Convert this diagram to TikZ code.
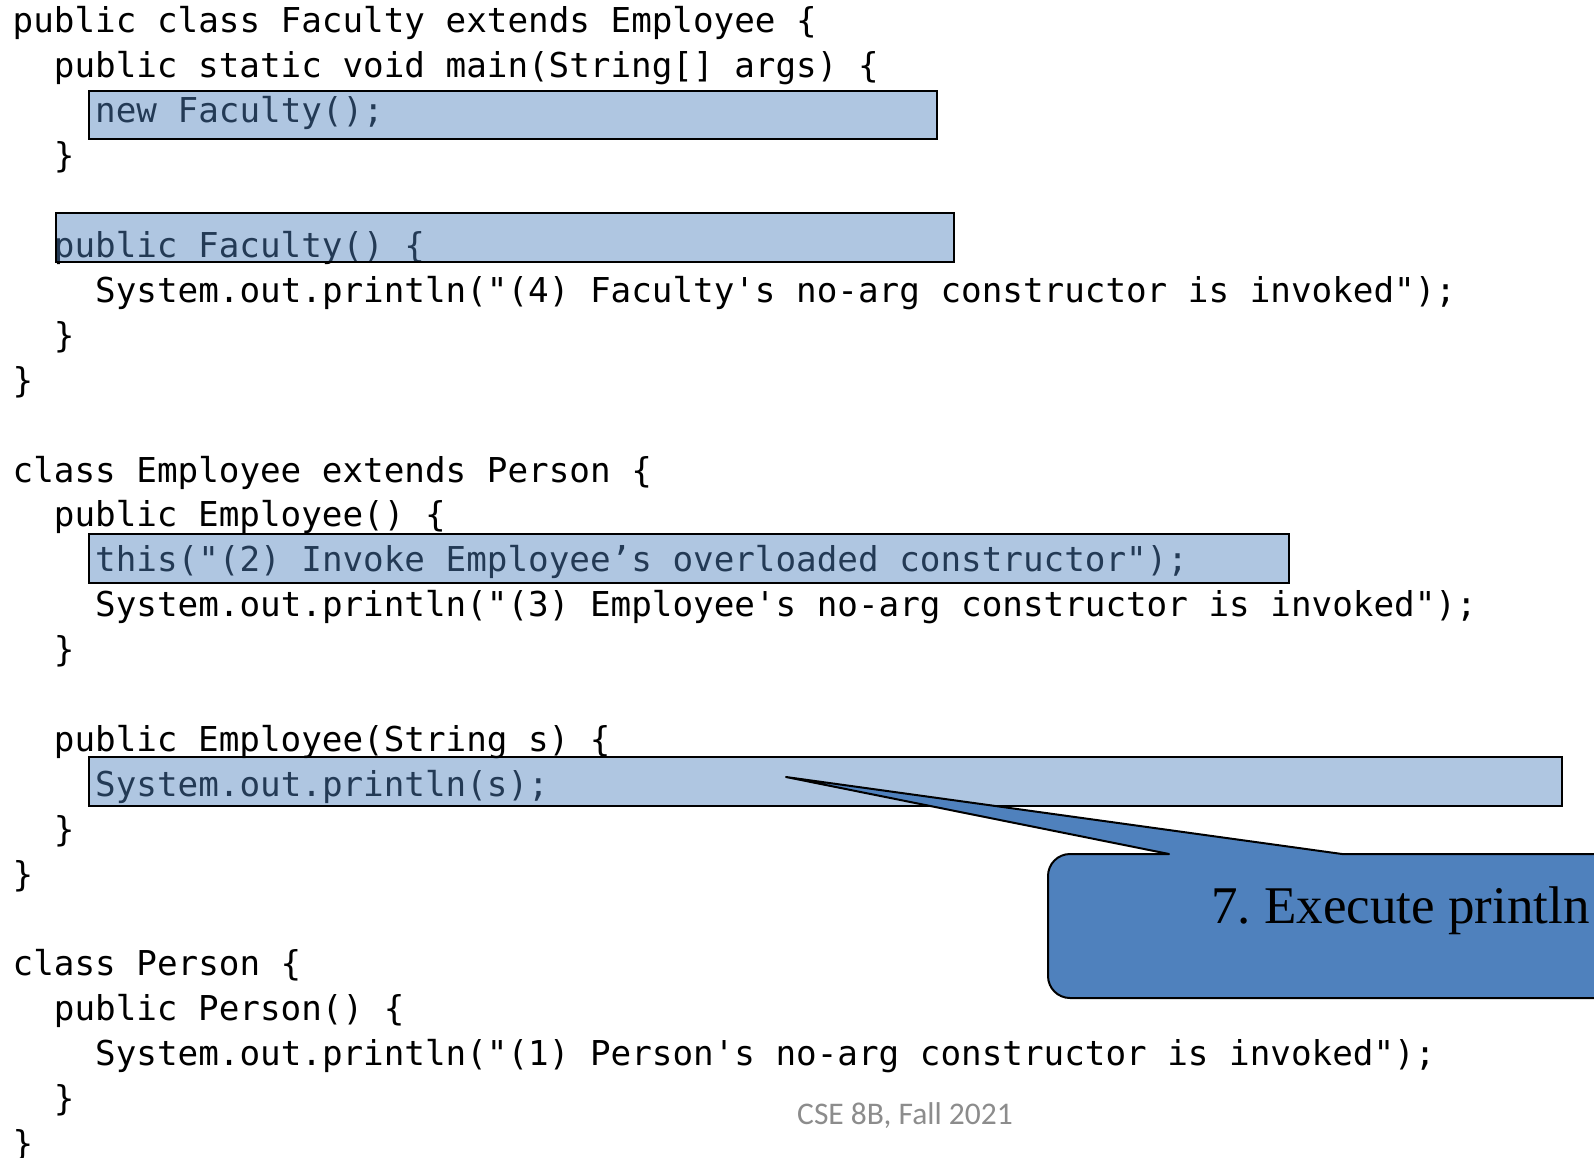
\documentclass[tikz,border=0pt]{standalone}
\usepackage{fontspec}
\newfontfamily\codefont{DejaVu Sans Mono}
\newfontfamily\footfont{Carlito}
\newfontfamily\calloutfont{Liberation Serif}
\definecolor{steelblue}{RGB}{79,129,189}
\definecolor{footgray}{RGB}{140,140,140}
\tikzset{
  codeline/.style={anchor=base west, inner sep=0pt, font=\codefont\fontsize{34.25pt}{40pt}\selectfont},
  hl/.style={fill=steelblue, fill opacity=0.45, draw=black, line width=2pt},
  callout/.style={fill=steelblue, draw=black, line width=2pt, line join=round},
}
\begin{document}
\begin{tikzpicture}[x=1pt, y=-1pt]
\useasboundingbox (0,0) rectangle (1594,1158);
\fill[white] (0,0) rectangle (1594,1158);

% class Faculty
\node[codeline] (l1)  at (12.5, 33.0)  {public class Faculty extends Employee \{};
\node[codeline] (l2)  at (53.7, 77.9)  {public static void main(String[] args) \{};
\node[codeline] (l3)  at (95.0, 122.8) {new Faculty();};
\node[codeline] (l4)  at (53.7, 167.7) {\}};
\node[codeline] (l6)  at (53.7, 257.5) {public Faculty() \{};
\node[codeline] (l7)  at (95.0, 302.4) {System.out.println("(4) Faculty's no-arg constructor is invoked");};
\node[codeline] (l8)  at (53.7, 347.3) {\}};
\node[codeline] (l9)  at (12.5, 392.2) {\}};

% class Employee
\node[codeline] (l11) at (12.5, 482.0) {class Employee extends Person \{};
\node[codeline] (l12) at (53.7, 526.9) {public Employee() \{};
\node[codeline] (l13) at (95.0, 571.8) {this("(2) Invoke Employee’s overloaded constructor");};
\node[codeline] (l14) at (95.0, 616.7) {System.out.println("(3) Employee's no-arg constructor is invoked");};
\node[codeline] (l15) at (53.7, 661.6) {\}};
\node[codeline] (l17) at (53.7, 751.4) {public Employee(String s) \{};
\node[codeline] (l18) at (95.0, 796.3) {System.out.println(s);};
\node[codeline] (l19) at (53.7, 841.2) {\}};
\node[codeline] (l20) at (12.5, 886.1) {\}};

% class Person
\node[codeline] (l22) at (12.5, 975.9)  {class Person \{};
\node[codeline] (l23) at (53.7, 1020.8) {public Person() \{};
\node[codeline] (l24) at (95.0, 1065.7) {System.out.println("(1) Person's no-arg constructor is invoked");};
\node[codeline] (l25) at (53.7, 1110.6) {\}};
\node[codeline] (l26) at (12.5, 1155.5) {\}};

% highlighted statements
\draw[hl] (88.5,91.5) rectangle (937,139);
\draw[hl] (56,213.5) rectangle (954,262);
\draw[hl] (88.5,534) rectangle (1289,582.5);
\draw[hl] (88.5,757) rectangle (1561.5,806);

% callout pointing into the println statement
\coordinate (tip) at (786,777);
\draw[callout] (1070,854) -- (1169,854) -- (tip) -- (1342,854) -- (1700,854)
  -- (1700,998) -- (1070,998) arc (90:180:22) -- (1048,876) arc (180:270:22) -- cycle;
\node[anchor=base west, inner sep=0pt, font=\calloutfont\fontsize{53pt}{60pt}\selectfont] (note) at (1211,923) {7.\hspace{-0.08em} Execute println};

% footer
\node[anchor=base, inner sep=0pt, text=footgray, font=\footfont\fontsize{31.5pt}{36pt}\selectfont] (foot) at (905,1124) {CSE 8B, Fall 2021};
\end{tikzpicture}
\end{document}
